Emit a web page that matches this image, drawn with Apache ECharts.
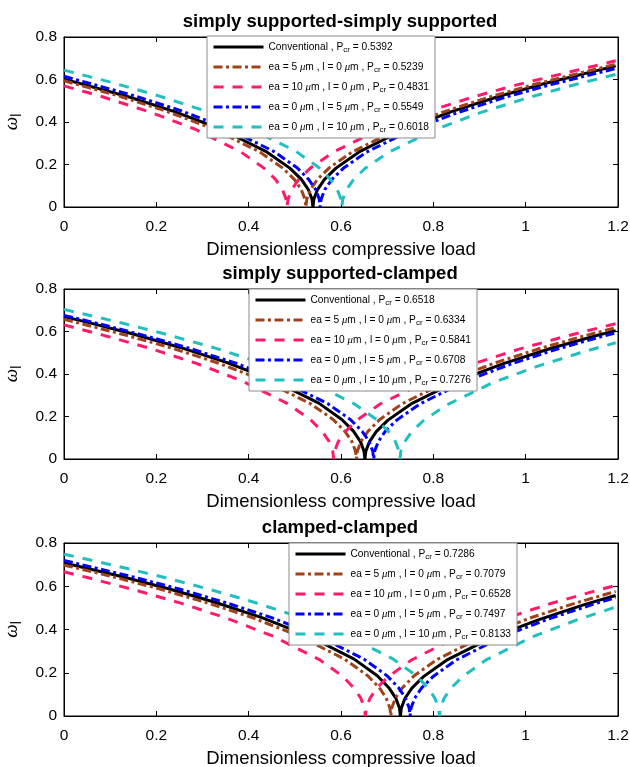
<!DOCTYPE html>
<html>
<head>
<meta charset="utf-8">
<script src="https://cdn.jsdelivr.net/npm/echarts@6/dist/echarts.min.js"></script>
<style>
  html, body { margin: 0; padding: 0; background: #ffffff; }
  #chart { width: 630px; height: 767px; }
</style>
</head>
<body>
<div id="chart"></div>
<script>
// Fundamental frequency vs. dimensionless compressive load, three boundary conditions.
// Each series: [load, frequency] pairs.

// simply supported - simply supported
const ssConv = [[0,.602],[.1392,.519],[.2392,.449],[.3392,.367],[.4392,.259],[.4892,.183],[.5142,.130],[.5292,.082],[.5372,.037],[.5392,0],[.5412,.037],[.5492,.082],[.5642,.130],[.5892,.183],[.6392,.259],[.7392,.367],[.8392,.449],[.9392,.519],[1.0392,.580],[1.195,.664]];
const ssEa5 = [[0,.594],[.1239,.519],[.2239,.449],[.3239,.367],[.4239,.259],[.4739,.183],[.4989,.130],[.5139,.082],[.5219,.037],[.5239,0],[.5259,.037],[.5339,.082],[.5489,.130],[.5739,.183],[.6239,.259],[.7239,.367],[.8239,.449],[.9239,.519],[1.0239,.580],[1.195,.672]];
const ssEa10 = [[0,.570],[.0831,.519],[.1831,.449],[.2831,.367],[.3831,.259],[.4331,.183],[.4581,.130],[.4731,.082],[.4811,.037],[.4831,0],[.4851,.036],[.4931,.082],[.5081,.129],[.5331,.182],[.5831,.258],[.6831,.365],[.7831,.446],[.8831,.516],[.9831,.576],[1.195,.688]];
const ssL5 = [[0,.615],[.1549,.522],[.2549,.452],[.3549,.369],[.4549,.261],[.5049,.185],[.5299,.130],[.5449,.083],[.5529,.037],[.5549,0],[.5569,.036],[.5649,.082],[.5799,.129],[.6049,.182],[.6549,.258],[.7549,.365],[.8549,.446],[.9549,.516],[1.0549,.576],[1.195,.652]];
const ssL10 = [[0,.644],[.1018,.587],[.2018,.525],[.3018,.455],[.4018,.371],[.5018,.263],[.5518,.186],[.5768,.131],[.5918,.083],[.5998,.037],[.6018,0],[.6038,.036],[.6118,.081],[.6268,.128],[.6518,.181],[.7018,.256],[.8018,.362],[.9018,.444],[1.0018,.512],[1.1018,.573],[1.195,.624]];
const ssPcr = [0.5392, 0.5239, 0.4831, 0.5549, 0.6018];

// simply supported - clamped
const scConv = [[0,.670],[.0518,.643],[.1518,.587],[.2518,.525],[.3518,.455],[.4518,.371],[.5518,.263],[.6018,.186],[.6268,.131],[.6418,.083],[.6498,.037],[.6518,0],[.6538,.037],[.6618,.082],[.6768,.130],[.7018,.183],[.7518,.259],[.8518,.367],[.9518,.449],[1.0518,.519],[1.1518,.580],[1.195,.604]];
const scEa5 = [[0,.657],[.0334,.639],[.1334,.583],[.2334,.522],[.3334,.452],[.4334,.369],[.5334,.261],[.5834,.185],[.6084,.130],[.6234,.083],[.6314,.037],[.6334,0],[.6354,.037],[.6434,.083],[.6584,.130],[.6834,.185],[.7334,.261],[.8334,.369],[.9334,.452],[1.0334,.522],[1.1334,.583],[1.195,.618]];
const scEa10 = [[0,.631],[.0841,.583],[.1841,.522],[.2841,.452],[.3841,.369],[.4841,.261],[.5341,.185],[.5591,.130],[.5741,.083],[.5821,.037],[.5841,0],[.5861,.036],[.5941,.082],[.6091,.129],[.6341,.182],[.6841,.258],[.7841,.365],[.8841,.446],[.9841,.516],[1.0841,.576],[1.195,.637]];
const scL5 = [[0,.676],[.0708,.639],[.1708,.583],[.2708,.522],[.3708,.452],[.4708,.369],[.5708,.261],[.6208,.185],[.6458,.130],[.6608,.083],[.6688,.037],[.6708,0],[.6728,.037],[.6808,.082],[.6958,.130],[.7208,.183],[.7708,.259],[.8708,.367],[.9708,.449],[1.0708,.519],[1.1708,.580],[1.195,.594]];
const scL10 = [[0,.704],[.0276,.690],[.1276,.639],[.2276,.583],[.3276,.522],[.4276,.452],[.5276,.369],[.6276,.261],[.6776,.185],[.7026,.130],[.7176,.083],[.7256,.037],[.7276,0],[.7296,.036],[.7376,.080],[.7526,.127],[.7776,.179],[.8276,.253],[.9276,.358],[1.0276,.438],[1.1276,.506],[1.195,.547]];
const scPcr = [0.6518, 0.6334, 0.5841, 0.6708, 0.7276];

// clamped - clamped
const ccConv = [[0,.708],[.0286,.694],[.1286,.643],[.2286,.587],[.3286,.525],[.4286,.455],[.5286,.371],[.6286,.263],[.6786,.186],[.7036,.131],[.7186,.083],[.7266,.037],[.7286,0],[.7306,.036],[.7386,.082],[.7536,.129],[.7786,.182],[.8286,.258],[.9286,.365],[1.0286,.446],[1.1286,.516],[1.195,.557]];
const ccEa5 = [[0,.698],[.0079,.694],[.1079,.643],[.2079,.587],[.3079,.525],[.4079,.455],[.5079,.371],[.6079,.263],[.6579,.186],[.6829,.131],[.6979,.083],[.7059,.037],[.7079,0],[.7099,.037],[.7179,.083],[.7329,.130],[.7579,.185],[.8079,.261],[.9079,.369],[1.0079,.452],[1.1079,.522],[1.195,.576]];
const ccEa10 = [[0,.667],[.0528,.639],[.1528,.583],[.2528,.522],[.3528,.452],[.4528,.369],[.5528,.261],[.6028,.185],[.6278,.130],[.6428,.083],[.6508,.037],[.6528,0],[.6548,.037],[.6628,.082],[.6778,.130],[.7028,.183],[.7528,.259],[.8528,.367],[.9528,.449],[1.0528,.519],[1.1528,.580],[1.195,.604]];
const ccL5 = [[0,.719],[.0497,.694],[.1497,.643],[.2497,.587],[.3497,.525],[.4497,.455],[.5497,.371],[.6497,.263],[.6997,.186],[.7247,.131],[.7397,.083],[.7477,.037],[.7497,0],[.7517,.037],[.7597,.082],[.7747,.130],[.7997,.183],[.8497,.259],[.9497,.367],[1.0497,.449],[1.1497,.519],[1.195,.547]];
const ccL10 = [[0,.748],[.0133,.742],[.1133,.694],[.2133,.643],[.3133,.587],[.4133,.525],[.5133,.455],[.6133,.371],[.7133,.263],[.7633,.186],[.7883,.131],[.8033,.083],[.8113,.037],[.8133,0],[.8153,.036],[.8233,.082],[.8383,.129],[.8633,.182],[.9133,.258],[1.0133,.365],[1.1133,.446],[1.195,.504]];
const ccPcr = [0.7286, 0.7079, 0.6528, 0.7497, 0.8133];

const panelTitles = ['simply supported-simply supported', 'simply supported-clamped', 'clamped-clamped'];
const caseLabels = ['Conventional', 'ea = 5 μm , l = 0 μm', 'ea = 10 μm , l = 0 μm', 'ea = 0 μm , l = 5 μm', 'ea = 0 μm , l = 10 μm'];
const xTicks = [0, 0.2, 0.4, 0.6, 0.8, 1, 1.2];
const yTicks = [0, 0.2, 0.4, 0.6, 0.8];
const xName = 'Dimensionless compressive load';

const panels = [
  { key: 'ss', series: [ssConv, ssEa5, ssEa10, ssL5, ssL10], pcr: ssPcr },
  { key: 'sc', series: [scConv, scEa5, scEa10, scL5, scL10], pcr: scPcr },
  { key: 'cc', series: [ccConv, ccEa5, ccEa10, ccL5, ccL10], pcr: ccPcr }
];

// ---- styling ----
const FONT = '"Liberation Sans", Arial, Helvetica, sans-serif';
const SERIF = '"Liberation Serif", "DejaVu Serif", serif';
const lineStyles = [
  { color: '#000000', type: 'solid' },
  { color: '#A0421A', type: [9, 3.5, 3, 3.5] },
  { color: '#FF1A6E', type: [10, 9] },
  { color: '#0000FF', type: [9, 3.5, 3, 3.5] },
  { color: '#21BFBF', type: [10, 9] }
];
const gridBoxes = [
  { left: 64, top: 37, width: 554, height: 170 },
  { left: 64, top: 289, width: 554, height: 170 },
  { left: 64, top: 543, width: 554, height: 173 }
];
const titleTops = [12, 264, 518];
const legendPos = [
  { left: 207, top: 36 },
  { left: 249, top: 289 },
  { left: 289, top: 543 }
];

const xMin = xTicks[0], xMax = xTicks[xTicks.length - 1], xStep = xTicks[1] - xTicks[0];
const yMin = yTicks[0], yMax = yTicks[yTicks.length - 1], yStep = yTicks[1] - yTicks[0];

const labelByName = {};
const option = {
  animation: false,
  backgroundColor: '#ffffff',
  title: [], grid: [], xAxis: [], yAxis: [], legend: [], series: []
};

function richLegendText(label, pcr) {
  return '{t|' + label.replace(/μ/g, '}{mu|μ}{t|') + ' , P}{sub|cr}{t| = ' + pcr.toFixed(4) + '}';
}

panels.forEach((p, i) => {
  option.grid.push(Object.assign({
    show: true, borderColor: '#000', borderWidth: 1, containLabel: false, outerBoundsMode: 'none'
  }, gridBoxes[i]));
  option.title.push({
    text: panelTitles[i], left: 340, top: titleTops[i], textAlign: 'center', padding: 0,
    textStyle: { fontFamily: FONT, fontSize: 18.5, fontWeight: 'bold', color: '#000' }
  });
  const tickStyle = { show: true, inside: true, length: 5, lineStyle: { color: '#000', width: 1 } };
  const axisLine = { show: true, onZero: false, lineStyle: { color: '#000', width: 1 } };
  // bottom x axis (labelled) and top x axis (ticks only)
  option.xAxis.push({
    type: 'value', gridIndex: i, position: 'bottom', min: xMin, max: xMax, interval: xStep,
    axisLine, axisTick: tickStyle, splitLine: { show: false },
    axisLabel: { color: '#000', fontFamily: FONT, fontSize: 15.5, margin: 12 },
    name: xName, nameLocation: 'middle', nameGap: 33,
    nameTextStyle: { color: '#000', fontFamily: FONT, fontSize: 18.5 }
  });
  option.xAxis.push({
    type: 'value', gridIndex: i, position: 'top', min: xMin, max: xMax, interval: xStep,
    axisLine, axisTick: tickStyle, splitLine: { show: false }, axisLabel: { show: false }
  });
  // left y axis (labelled) and right y axis (ticks only)
  option.yAxis.push({
    type: 'value', gridIndex: i, position: 'left', min: yMin, max: yMax, interval: yStep,
    axisLine, axisTick: tickStyle, splitLine: { show: false },
    axisLabel: { color: '#000', fontFamily: FONT, fontSize: 15.5, margin: 7 },
    name: '{w|ω}{l|l}', nameLocation: 'middle', nameRotate: 90, nameGap: 40,
    nameTextStyle: {
      color: '#000',
      rich: {
        w: { fontFamily: SERIF, fontStyle: 'italic', fontSize: 19, color: '#000' },
        l: { fontFamily: FONT, fontSize: 14, color: '#000', padding: [10, 0, 0, 0] }
      }
    }
  });
  option.yAxis.push({
    type: 'value', gridIndex: i, position: 'right', min: yMin, max: yMax, interval: yStep,
    axisLine, axisTick: tickStyle, splitLine: { show: false }, axisLabel: { show: false }
  });

  const names = [];
  p.series.forEach((data, j) => {
    const name = p.key + j;
    names.push(name);
    labelByName[name] = richLegendText(caseLabels[j], p.pcr[j]);
    option.series.push({
      name, type: 'line', data, xAxisIndex: 2 * i, yAxisIndex: 2 * i,
      symbol: 'none', smooth: false, clip: true,
      lineStyle: { color: lineStyles[j].color, type: lineStyles[j].type, width: 3, cap: 'butt' },
      itemStyle: { color: lineStyles[j].color },
      emphasis: { disabled: true }
    });
  });

  option.legend.push({
    data: names, orient: 'vertical', left: legendPos[i].left, top: legendPos[i].top,
    itemWidth: 50, itemHeight: 14, itemGap: 6, padding: [4, 6, 4, 5],
    backgroundColor: '#ffffff', borderColor: '#8a8a8a', borderWidth: 1, borderRadius: 0,
    selectedMode: false,
    itemStyle: { opacity: 0 },
    lineStyle: { width: 3 },
    formatter: (n) => labelByName[n],
    textStyle: {
      color: '#000',
      rich: {
        t: { fontFamily: FONT, fontSize: 10.2, color: '#000', lineHeight: 14 },
        mu: { fontFamily: SERIF, fontStyle: 'italic', fontSize: 10.8, color: '#000', lineHeight: 14 },
        sub: { fontFamily: FONT, fontSize: 8, color: '#000', padding: [6, 0, 0, 0], lineHeight: 8 }
      }
    }
  });
});

const chart = echarts.init(document.getElementById('chart'), null, { renderer: 'canvas' });
chart.setOption(option);
</script>
</body>
</html>
